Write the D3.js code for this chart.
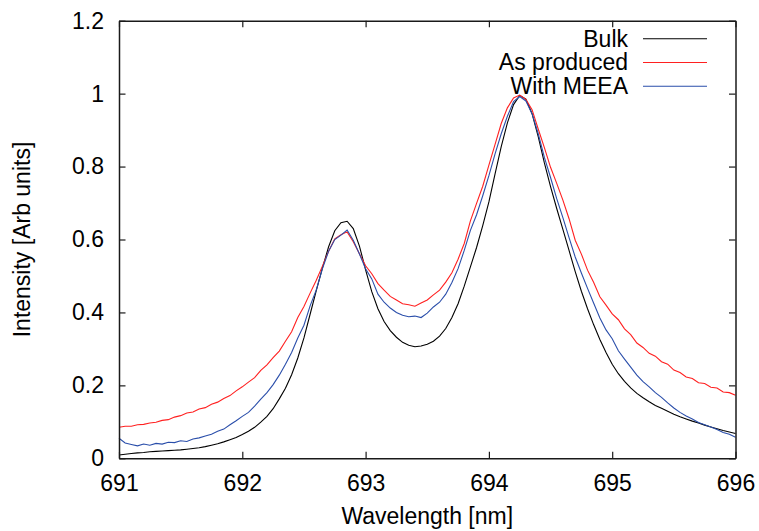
<!DOCTYPE html>
<html>
<head>
<meta charset="utf-8">
<script src="https://cdn.jsdelivr.net/npm/d3@7"></script>
<style>
  body { margin: 0; background: #fff; }
  svg text { font-family: "Liberation Sans", Arial, sans-serif; fill: #000; }
</style>
</head>
<body>
<div id="chart"></div>
<script>
// wavelengths in nm, one sample every 0.05 nm
let wavelength = [
  691.00, 691.05, 691.10, 691.15, 691.20, 691.25, 691.30, 691.35, 691.40, 691.45,
  691.50, 691.55, 691.60, 691.65, 691.70, 691.75, 691.80, 691.85, 691.90, 691.95,
  692.00, 692.05, 692.10, 692.15, 692.20, 692.25, 692.30, 692.35, 692.40, 692.45,
  692.50, 692.55, 692.60, 692.65, 692.70, 692.75, 692.80, 692.85, 692.90, 692.95,
  693.00, 693.05, 693.10, 693.15, 693.20, 693.25, 693.30, 693.35, 693.40, 693.45,
  693.50, 693.55, 693.60, 693.65, 693.70, 693.75, 693.80, 693.85, 693.90, 693.95,
  694.00, 694.05, 694.10, 694.15, 694.20, 694.25, 694.30, 694.35, 694.40, 694.45,
  694.50, 694.55, 694.60, 694.65, 694.70, 694.75, 694.80, 694.85, 694.90, 694.95,
  695.00, 695.05, 695.10, 695.15, 695.20, 695.25, 695.30, 695.35, 695.40, 695.45,
  695.50, 695.55, 695.60, 695.65, 695.70, 695.75, 695.80, 695.85, 695.90, 695.95,
  696.00
]

let bulk = [
  0.009, 0.011, 0.013, 0.015, 0.016, 0.018, 0.019, 0.020, 0.021, 0.022,
  0.023, 0.025, 0.027, 0.029, 0.032, 0.036, 0.040, 0.045, 0.051, 0.057,
  0.065, 0.074, 0.085, 0.099, 0.115, 0.136, 0.163, 0.192, 0.229, 0.275,
  0.330, 0.395, 0.460, 0.522, 0.580, 0.624, 0.646, 0.650, 0.630, 0.582,
  0.517, 0.457, 0.410, 0.375, 0.350, 0.332, 0.318, 0.310, 0.306, 0.308,
  0.313, 0.321, 0.335, 0.356, 0.386, 0.424, 0.472, 0.525, 0.578, 0.638,
  0.703, 0.780, 0.855, 0.920, 0.970, 0.995, 0.985, 0.945, 0.882, 0.810,
  0.745, 0.685, 0.628, 0.570, 0.512, 0.458, 0.410, 0.366, 0.326, 0.290,
  0.258, 0.232, 0.211, 0.193, 0.178, 0.166, 0.155, 0.145, 0.137, 0.129,
  0.121, 0.114, 0.108, 0.102, 0.097, 0.091, 0.086, 0.081, 0.076, 0.072,
  0.068
]

let asProduced = [
  0.085, 0.088, 0.088, 0.092, 0.093, 0.097, 0.099, 0.104, 0.106, 0.113,
  0.117, 0.124, 0.127, 0.135, 0.139, 0.148, 0.154, 0.164, 0.172, 0.185,
  0.196, 0.209, 0.221, 0.241, 0.256, 0.276, 0.294, 0.321, 0.347, 0.386,
  0.416, 0.453, 0.488, 0.527, 0.568, 0.602, 0.613, 0.621, 0.594, 0.561,
  0.528, 0.506, 0.479, 0.461, 0.444, 0.434, 0.424, 0.421, 0.417, 0.426,
  0.434, 0.448, 0.461, 0.483, 0.509, 0.546, 0.589, 0.651, 0.699, 0.746,
  0.804, 0.861, 0.918, 0.961, 0.988, 0.996, 0.984, 0.956, 0.903, 0.852,
  0.798, 0.754, 0.708, 0.657, 0.598, 0.560, 0.516, 0.482, 0.443, 0.420,
  0.396, 0.380, 0.355, 0.339, 0.316, 0.304, 0.288, 0.280, 0.265, 0.258,
  0.242, 0.235, 0.223, 0.219, 0.207, 0.205, 0.195, 0.193, 0.182, 0.180,
  0.173
]

let withMeea = [
  0.055, 0.042, 0.038, 0.034, 0.039, 0.036, 0.041, 0.039, 0.044, 0.043,
  0.048, 0.046, 0.053, 0.056, 0.061, 0.066, 0.074, 0.080, 0.092, 0.103,
  0.115, 0.126, 0.143, 0.162, 0.180, 0.202, 0.228, 0.258, 0.290, 0.330,
  0.365, 0.418, 0.462, 0.520, 0.568, 0.600, 0.612, 0.626, 0.598, 0.560,
  0.520, 0.492, 0.450, 0.428, 0.412, 0.400, 0.392, 0.388, 0.390, 0.386,
  0.398, 0.415, 0.428, 0.450, 0.482, 0.520, 0.570, 0.625, 0.668, 0.720,
  0.775, 0.835, 0.890, 0.938, 0.978, 0.992, 0.980, 0.945, 0.890, 0.825,
  0.770, 0.712, 0.660, 0.605, 0.552, 0.508, 0.466, 0.425, 0.385, 0.352,
  0.328, 0.295, 0.272, 0.250, 0.228, 0.210, 0.196, 0.180, 0.167, 0.152,
  0.138, 0.126, 0.116, 0.108, 0.098, 0.092, 0.086, 0.079, 0.071, 0.066,
  0.058
]

let seriesNames = ['Bulk', 'As produced', 'With MEEA']
let seriesColors = ['#000000', '#ff2020', '#2a4eaa']

let xTicks = [691, 692, 693, 694, 695, 696]
let yTicks = [0, 0.2, 0.4, 0.6, 0.8, 1, 1.2]
let yTickLabels = ['0', '0.2', '0.4', '0.6', '0.8', '1', '1.2']

let width = 759
let height = 531
let margin = { top: 20.7, right: 23.5, bottom: 72.7, left: 119 }

function main () {
  let svg = d3.select('#chart').append('svg').attr('width', width).attr('height', height)

  let x = d3.scaleLinear().domain([691, 696]).range([margin.left, width - margin.right])
  let y = d3.scaleLinear().domain([0, 1.2]).range([height - margin.bottom, margin.top])

  let plot = svg.append('g')
  let series = [bulk, asProduced, withMeea]
  let line = d3.line().x((d, i) => x(wavelength[i])).y((d) => y(d))

  series.forEach((s, k) => {
    plot.append('path')
      .datum(s)
      .attr('fill', 'none')
      .attr('stroke', seriesColors[k])
      .attr('stroke-width', 1.1)
      .attr('d', line)
  })

  drawAxes(svg, x, y)
  drawLegend(svg)
}

function drawAxes (svg, x, y) {
  let fontSize = '23px'

  let bottom = svg.append('g')
    .attr('transform', `translate(0,${y(0)})`)
    .call(d3.axisBottom(x).tickValues(xTicks).tickFormat(d3.format('d')).tickSizeInner(-6.5).tickSizeOuter(0).tickPadding(16))
  let top = svg.append('g')
    .attr('transform', `translate(0,${y(1.2)})`)
    .call(d3.axisTop(x).tickValues(xTicks).tickFormat('').tickSizeInner(-6.5).tickSizeOuter(0))
  let left = svg.append('g')
    .attr('transform', `translate(${x(691)},0)`)
    .call(d3.axisLeft(y).tickValues(yTicks).tickFormat((d, i) => yTickLabels[i]).tickSizeInner(-6.5).tickSizeOuter(0).tickPadding(15))
  let right = svg.append('g')
    .attr('transform', `translate(${x(696)},0)`)
    .call(d3.axisRight(y).tickValues(yTicks).tickFormat('').tickSizeInner(-6.5).tickSizeOuter(0))

  for (let g of [bottom, top, left, right]) {
    g.select('.domain').attr('stroke', '#1a1a1a').attr('stroke-width', 1.5)
    g.selectAll('.tick line').attr('stroke', '#1a1a1a').attr('stroke-width', 1.2)
    g.selectAll('.tick text').attr('font-size', fontSize).attr('font-family', null).attr('fill', '#000')
  }

  svg.append('text')
    .attr('x', (x(691) + x(696)) / 2)
    .attr('y', 524)
    .attr('text-anchor', 'middle')
    .attr('font-size', fontSize)
    .text('Wavelength [nm]')

  svg.append('text')
    .attr('transform', `translate(30,${(y(0) + y(1.2)) / 2}) rotate(-90)`)
    .attr('text-anchor', 'middle')
    .attr('font-size', fontSize)
    .text('Intensity [Arb units]')
}

function drawLegend (svg) {
  let legend = svg.append('g')
  seriesNames.forEach((name, i) => {
    let base = 46.5 + i * 23.7
    legend.append('text')
      .attr('x', 628)
      .attr('y', base)
      .attr('text-anchor', 'end')
      .attr('font-size', '23px')
      .text(name)
    legend.append('line')
      .attr('x1', 643)
      .attr('x2', 707)
      .attr('y1', base - 7.7)
      .attr('y2', base - 7.7)
      .attr('stroke', seriesColors[i])
      .attr('stroke-width', 1.1)
  })
}

main()
</script>
</body>
</html>
